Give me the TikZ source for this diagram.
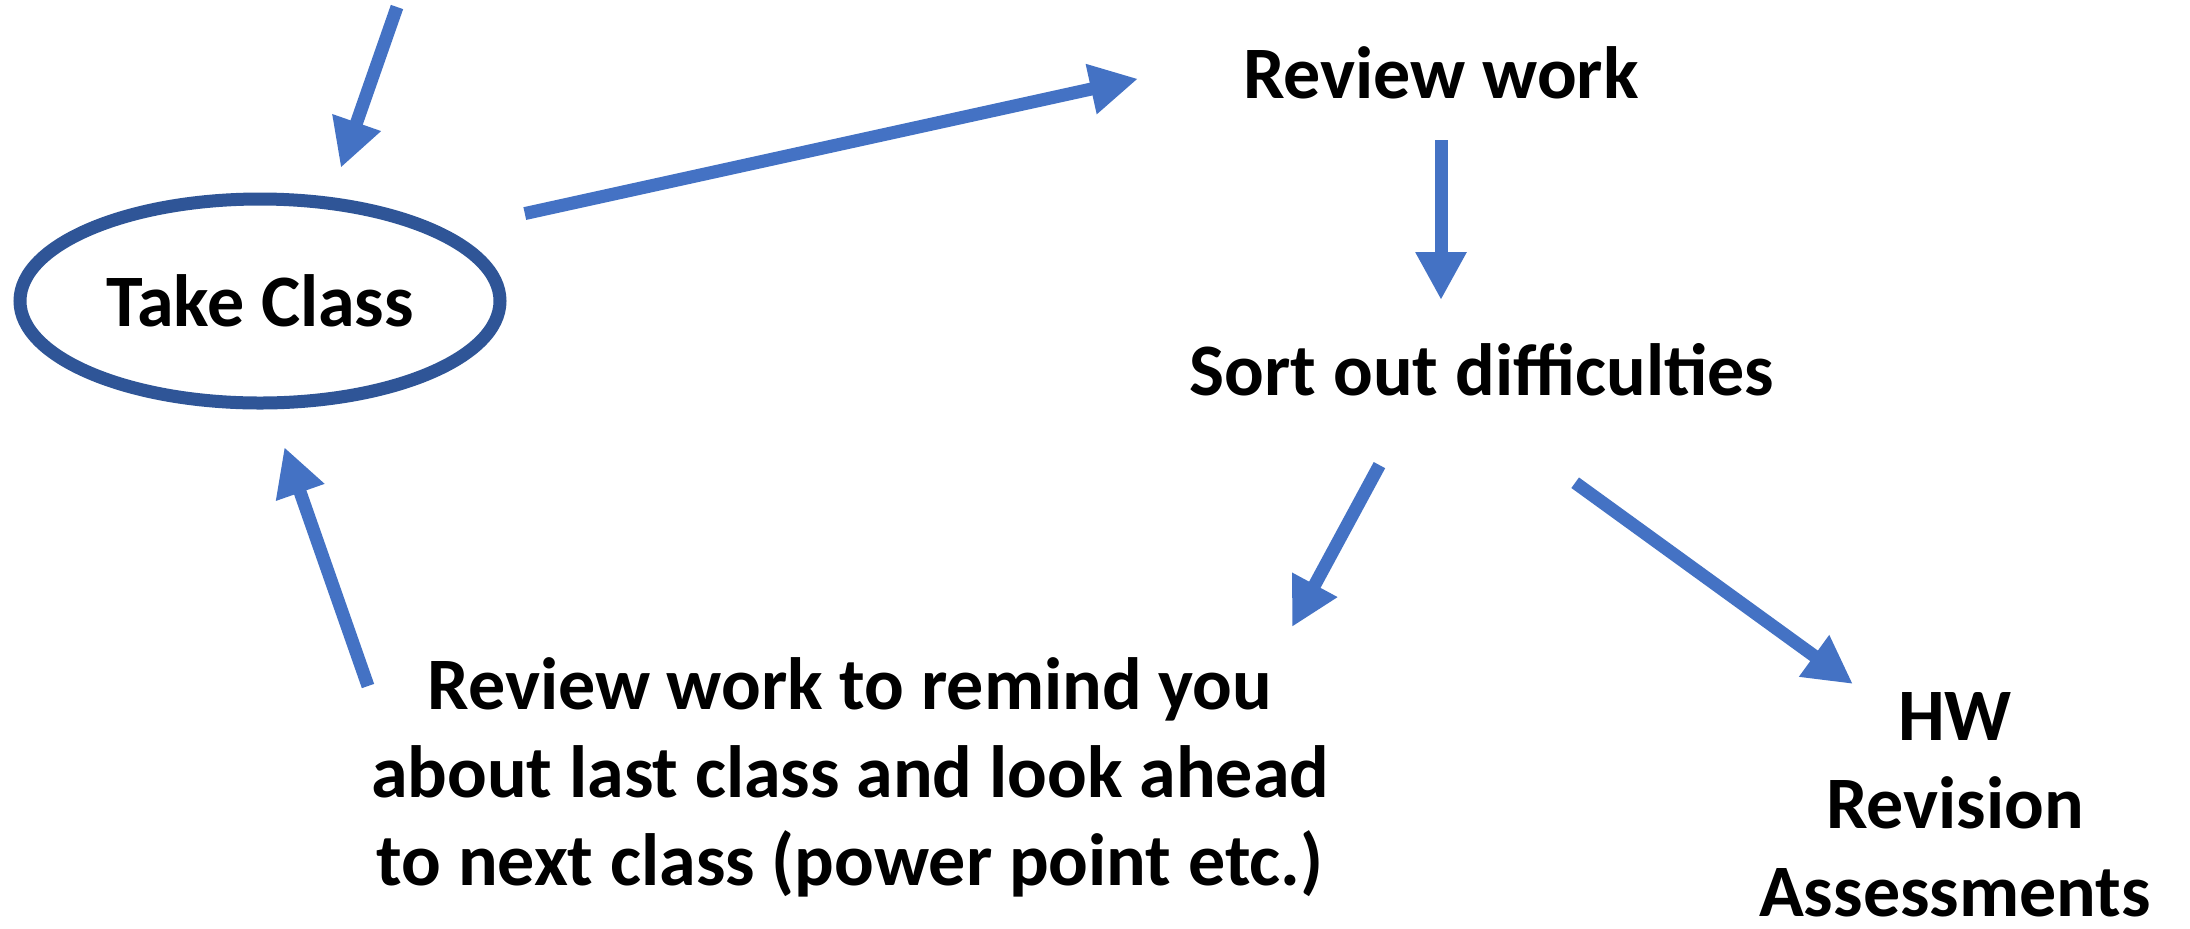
\documentclass[tikz,border=0pt]{standalone}
\usepackage{fontspec}
\setmainfont{Carlito}
\usetikzlibrary{arrows.meta,shapes.geometric,calc}
\definecolor{arrowblue}{HTML}{4472C4}
\definecolor{ringblue}{HTML}{2F5597}
\begin{document}
\begin{tikzpicture}[x=0.5pt,y=-0.5pt,
  txtfont/.style={font=\fontsize{37pt}{44pt}\selectfont\bfseries},
  lbl/.style={txtfont, align=center, inner sep=0pt, outer sep=0pt, minimum height=30pt},
  arr/.style={color=arrowblue, line width=6.5pt, -{Triangle[length=24pt,width=24pt]}},
]
\path[fill=white] (0,0) rectangle (2190,928);
\useasboundingbox (0,0) rectangle (2190,928);

\node[ellipse, draw=ringblue, line width=6.5pt, minimum width=240pt, minimum height=102pt,
      inner sep=0pt, outer sep=0pt, txtfont] (tc) at (260,301) {Take Class};
\node[lbl, minimum width=210pt] (rw) at (1441,73) {Review work};
\node[lbl, minimum width=310pt] (so) at (1482,370) {Sort out difficulties};
\node[lbl] (rr) at (850,777)
  {Review work to remind you\\about last class and look ahead\\to next class (power point etc.)};
\node[lbl, minimum width=210pt, minimum height=120pt] (hw) at (1955,805)
  {HW\\Revision\\Assessments};
\coordinate (in) at (397,7);

\draw[arr, shorten >=18.75pt] (in) -- (tc.55);
\draw[arr, shorten <=44.4pt, shorten >=47.6pt] (tc.21) -- (rw.176.7);
\draw[arr, shorten <=18.5pt, shorten >=20pt] (rw.south) -- (rw.south |- so.north);
\draw[arr, shorten <=37pt] (so.204.3) -- ([shift={(442,-150)}]rr.center);
\draw[arr, shorten <=70.5pt, shorten >=0.85pt] (so.235) -- (hw.130.53);
\draw[arr, shorten >=23.4pt] ([shift={(-482,-91)}]rr.center) -- (tc.275.8);
\end{tikzpicture}
\end{document}
